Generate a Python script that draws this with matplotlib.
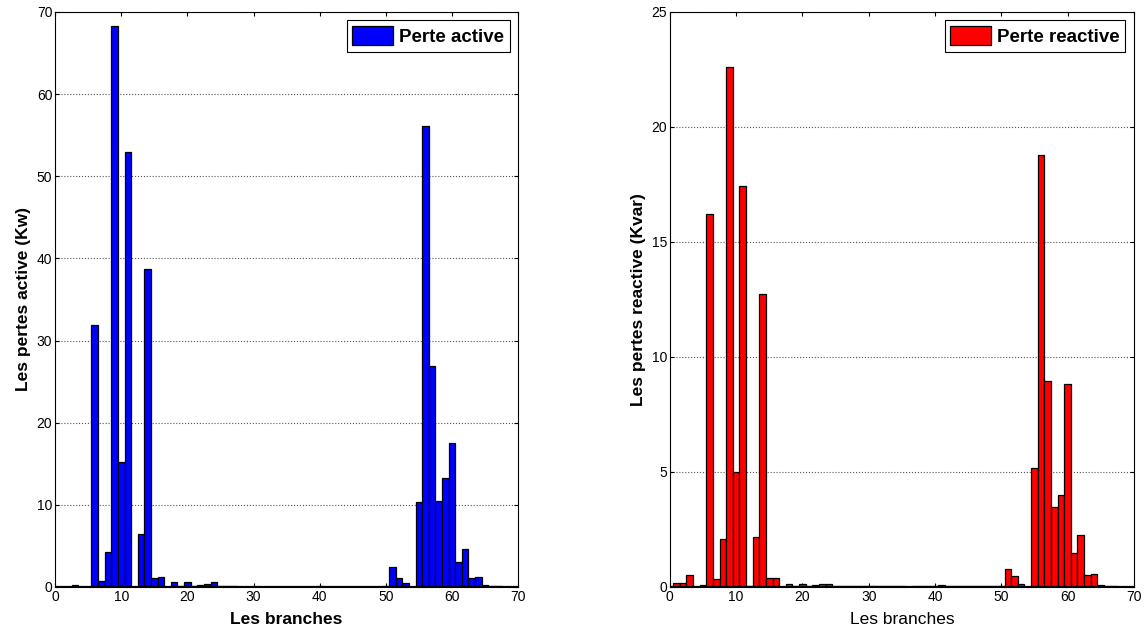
import numpy as np
import matplotlib.pyplot as plt

plt.rcParams['font.family'] = ['Liberation Sans', 'DejaVu Sans']

# pertes par branche (reseau 69 noeuds, 68 branches)
branches = np.arange(1, 69)

p_active = [0.05, 0.03, 0.25, 0.03, 0.05, 31.9, 0.7, 4.2, 68.3, 15.2,
            52.9, 0.05, 6.5, 38.7, 1.1, 1.25, 0.05, 0.57, 0.1, 0.6,
            0.1, 0.28, 0.4, 0.57, 0.1, 0.08, 0.08, 0.05, 0.05, 0.05,
            0.05, 0.05, 0.05, 0.05, 0.05, 0.03, 0.05, 0.05, 0.05, 0.1,
            0.05, 0.05, 0.05, 0.05, 0.05, 0.05, 0.05, 0.05, 0.05, 0.1,
            2.45, 1.05, 0.45, 0.05, 10.4, 56.1, 26.9, 10.5, 13.3, 17.5,
            3.0, 4.6, 1.05, 1.2, 0.28, 0.1, 0.1, 0.02]

p_reactive = [0.19, 0.19, 0.5, 0.02, 0.1, 16.2, 0.35, 2.1, 22.6, 5.0,
              17.45, 0.05, 2.16, 12.76, 0.41, 0.41, 0.02, 0.15, 0.05, 0.15,
              0.05, 0.1, 0.15, 0.15, 0.03, 0.03, 0.03, 0.03, 0.03, 0.03,
              0.03, 0.03, 0.03, 0.03, 0.03, 0.02, 0.03, 0.03, 0.03, 0.05,
              0.1, 0.03, 0.03, 0.03, 0.03, 0.03, 0.03, 0.03, 0.03, 0.05,
              0.79, 0.49, 0.14, 0.01, 5.19, 18.8, 8.94, 3.48, 3.99, 8.81,
              1.49, 2.27, 0.5, 0.56, 0.1, 0.05, 0.05, 0.01]

fig = plt.figure(figsize=(11.47, 6.37), dpi=100)
ax1 = fig.add_axes([0.048, 0.0785, 0.4037, 0.9027])
ax2 = fig.add_axes([0.584, 0.0785, 0.4045, 0.9027])


def draw(ax, vals, color, label, ylabel, ymax, ystep, bold_x):
    ax.bar(branches, vals, width=1.0, color=color, edgecolor='black',
           linewidth=0.9, label=label, zorder=3)
    ax.axhline(0, color='black', linewidth=1.6, zorder=4)
    ax.set_xlim(0, 70)
    ax.set_ylim(0, ymax)
    ax.set_xticks(np.arange(0, 71, 10))
    ax.set_yticks(np.arange(0, ymax + 0.1, ystep))
    ax.yaxis.grid(True, linestyle=':', color='#555555', linewidth=0.8, zorder=0)
    ax.tick_params(direction='in', top=True, right=True, labelsize=10,
                   length=3, width=0.8, pad=2)
    for s in ax.spines.values():
        s.set_linewidth(0.8)
    ax.set_xlabel('Les branches', fontsize=12.5,
                  fontweight='bold' if bold_x else 'normal', labelpad=6)
    ax.set_ylabel(ylabel, fontsize=12.5, fontweight='bold', labelpad=4)
    leg = ax.legend(loc='upper right', fancybox=False, edgecolor='black',
                    framealpha=1, handlelength=2.2, handleheight=1.2,
                    handletextpad=0.3, borderpad=0.3, borderaxespad=0.45,
                    prop={'weight': 'bold', 'size': 13.5})
    leg.get_frame().set_linewidth(0.8)


draw(ax1, p_active, '#0000ff', 'Perte active', 'Les pertes active (Kw)', 70, 10, True)
draw(ax2, p_reactive, '#ff0000', 'Perte reactive', 'Les pertes reactive (Kvar)', 25, 5, False)

plt.savefig('out.png', dpi=100)
